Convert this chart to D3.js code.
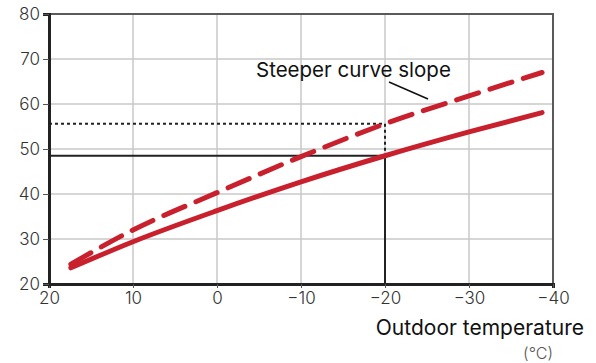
<!DOCTYPE html>
<html><head><meta charset="utf-8">
<script src="https://cdn.jsdelivr.net/npm/d3@7/dist/d3.min.js"></script>
<style>body{margin:0;background:#fff}svg{display:block}</style>
</head><body>
<script>
const xTicks = [20, 10, 0, -10, -20, -30, -40];
const xTickLabels = ["20", "10", "0", "−10", "−20", "−30", "−40"];
const yTicks = [20, 30, 40, 50, 60, 70, 80];
const temps = [17.4, 10, 0, -10, -20, -30, -38.7];
const normalCurve = [23.6, 29.4, 36.3, 42.7, 48.5, 53.8, 58.1];
const steeperCurve = [24.4, 32.0, 40.3, 48.3, 55.6, 61.8, 67.0];
const refTemp = -20;
const refNormal = 48.5;
const refSteep = 55.6;
const annotation = "Steeper curve slope";
const xTitle = "Outdoor temperature";
const xUnit = "(°C)";

const W = 596, H = 363;
const m = {l: 49, r: 43, t: 14, b: 79};
const svg = d3.select("body").append("svg").attr("width", W).attr("height", H);
const x = d3.scaleLinear().domain([20, -40]).range([m.l, W - m.r]);
const y = d3.scaleLinear().domain([20, 80]).range([H - m.b, m.t]);
const font = "Inter, 'Open Sans', sans-serif";

// grid
svg.append("g").selectAll("line").data(xTicks.slice(1, -1)).join("line")
  .attr("x1", d => x(d)).attr("x2", d => x(d)).attr("y1", y(80)).attr("y2", y(20))
  .attr("stroke", "#c8c8c8").attr("stroke-width", 1.5);
svg.append("g").selectAll("line").data(yTicks.slice(1, -1)).join("line")
  .attr("x1", x(20)).attr("x2", x(-40)).attr("y1", d => y(d)).attr("y2", d => y(d))
  .attr("stroke", "#c8c8c8").attr("stroke-width", 1.5);

// top/right frame
svg.append("path").attr("d", `M${x(20)},${y(80)}H${x(-40)}V${y(20)}`)
  .attr("fill", "none").attr("stroke", "#5a5a5a").attr("stroke-width", 2);

// axes
const xAxis = d3.axisBottom(x).tickValues(xTicks).tickFormat((d, i) => xTickLabels[i]).tickSize(4).tickPadding(4);
const gx = svg.append("g").attr("transform", `translate(0,${y(20)})`).call(xAxis);
gx.select(".domain").attr("stroke", "#222").attr("stroke-width", 3);
gx.selectAll(".tick line").attr("stroke", "#555").attr("stroke-width", 1);
gx.selectAll("text").attr("font-family", font).attr("font-size", 17).attr("font-weight", 300).attr("fill", "#333");

const yAxis = d3.axisLeft(y).tickValues(yTicks).tickSize(6).tickPadding(3);
const gy = svg.append("g").attr("transform", `translate(${x(20)},0)`).call(yAxis);
gy.select(".domain").attr("stroke", "#222").attr("stroke-width", 3);
gy.selectAll(".tick line").attr("stroke", "#555").attr("stroke-width", 1);
gy.selectAll("text").attr("font-family", font).attr("font-size", 17).attr("font-weight", 300).attr("fill", "#333");

// reference lines
svg.append("path").attr("d", `M${x(20)},${y(refSteep)}H${x(refTemp)}V${y(refNormal)}`)
  .attr("fill", "none").attr("stroke", "#222").attr("stroke-width", 2).attr("stroke-dasharray", "3,3");
svg.append("path").attr("d", `M${x(20)},${y(refNormal)}H${x(refTemp)}V${y(20)}`)
  .attr("fill", "none").attr("stroke", "#222").attr("stroke-width", 2);

const line = d3.line().x(d => x(d[0])).y(d => y(d[1])).curve(d3.curveMonotoneX);
svg.append("path").attr("d", line(temps.map((t, i) => [t, normalCurve[i]])))
  .attr("fill", "none").attr("stroke", "#c9202e").attr("stroke-width", 5).attr("stroke-linecap", "round");
svg.append("path").attr("d", line(temps.map((t, i) => [t, steeperCurve[i]])))
  .attr("fill", "none").attr("stroke", "#c9202e").attr("stroke-width", 5).attr("stroke-linecap", "round")
  .attr("stroke-dasharray", "23,12");

// annotation
svg.append("text").attr("x", 256).attr("y", 77).text(annotation)
  .attr("font-family", font).attr("font-size", 20.5).attr("fill", "#111");
svg.append("line").attr("x1", 389).attr("y1", 82).attr("x2", 428).attr("y2", 99)
  .attr("stroke", "#111").attr("stroke-width", 1.5);

svg.append("text").attr("x", 584).attr("y", 335).attr("text-anchor", "end").text(xTitle)
  .attr("font-family", font).attr("font-size", 21).attr("fill", "#111");
svg.append("text").attr("x", 553).attr("y", 359).attr("text-anchor", "end").text(xUnit)
  .attr("font-family", font).attr("font-size", 16).attr("font-weight", 300).attr("fill", "#555");
</script>
</body></html>
